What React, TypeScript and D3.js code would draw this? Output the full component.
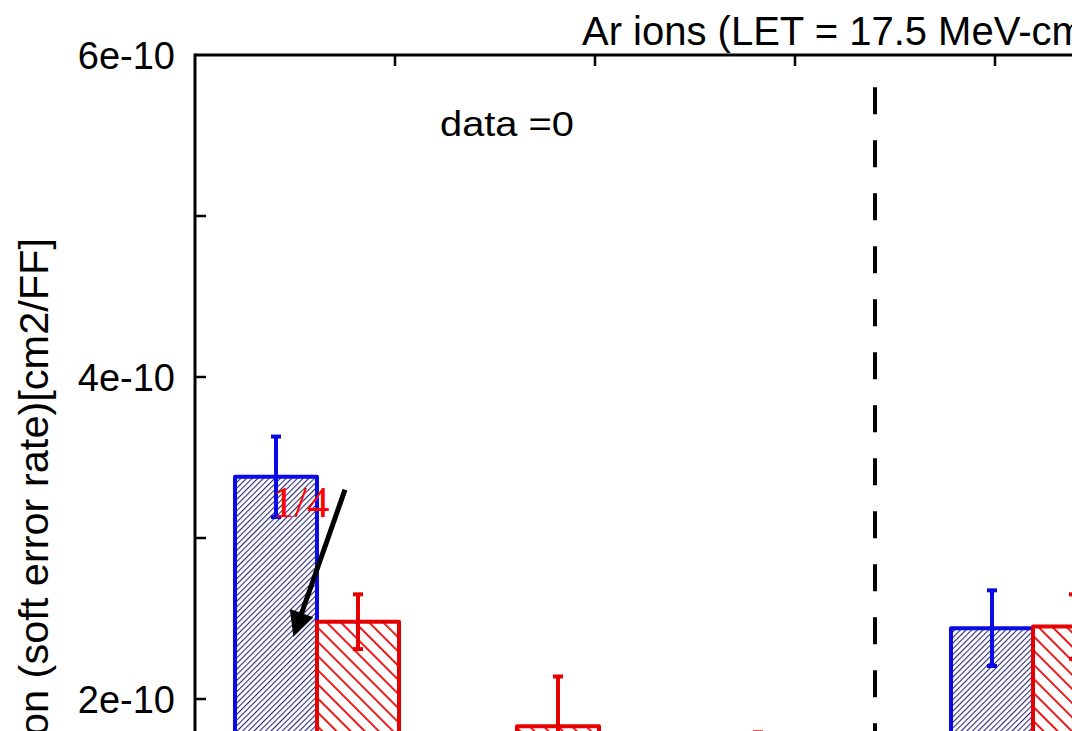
import React, { useEffect, useRef } from 'react';
import * as d3 from 'd3';

// group slots on the x axis (bar pair meets at this position)
const groupPos = [0.61, 1.61, 2.61, 4.19];
const blueVals = [3.38e-10, 0, 0, 2.44e-10];
const blueErr = [0.25e-10, 0, 0, 0.235e-10];
const redVals = [2.48e-10, 1.83e-10, 1.5e-10, 2.45e-10];
const redErr = [0.17e-10, 0.31e-10, 0.293e-10, 0.2e-10];
const yTickLabels = [6e-10, 4e-10, 2e-10];
const yTicks = [6e-10, 5e-10, 4e-10, 3e-10, 2e-10, 1e-10];
const xTicks = [0, 1, 2, 3, 4, 5];
const dividerPos = 3.4;

export default function App() {
  const svgRef = useRef<SVGSVGElement>(null);

  useEffect(() => {
    const width = 1072;
    const height = 731;
    const left = 195;
    const top = 55;
    const barW = 0.41;
    const font = '"Liberation Sans", Arial, sans-serif';

    const svg = d3.select(svgRef.current);
    svg.selectAll('*').remove();
    svg.attr('width', width).attr('height', height);

    const x = d3.scaleLinear().domain([0, 5]).range([left, left + 1000]);
    const y = d3.scaleLinear().domain([0, 6e-10]).range([top + 6 * 161, top]);

    const defs = svg.append('defs');
    const pb = defs.append('pattern')
      .attr('id', 'hatchBlue')
      .attr('patternUnits', 'userSpaceOnUse')
      .attr('width', 4).attr('height', 4)
      .attr('patternTransform', 'rotate(45)');
    pb.append('rect').attr('width', 4).attr('height', 4).attr('fill', '#fff');
    pb.append('line').attr('x1', 0).attr('y1', 0).attr('x2', 0).attr('y2', 4)
      .attr('stroke', '#2b2b7a').attr('stroke-width', 2.2);
    const pr = defs.append('pattern')
      .attr('id', 'hatchRed')
      .attr('patternUnits', 'userSpaceOnUse')
      .attr('width', 10).attr('height', 10)
      .attr('patternTransform', 'rotate(-45)');
    pr.append('rect').attr('width', 10).attr('height', 10).attr('fill', '#fff');
    pr.append('line').attr('x1', 0).attr('y1', 0).attr('x2', 0).attr('y2', 10)
      .attr('stroke', '#e60000').attr('stroke-width', 3.5);
    defs.append('marker')
      .attr('id', 'arrowHead')
      .attr('viewBox', '0 0 10 10')
      .attr('refX', 8).attr('refY', 5)
      .attr('markerWidth', 5.5).attr('markerHeight', 5)
      .attr('markerUnits', 'strokeWidth')
      .attr('orient', 'auto')
      .append('path').attr('d', 'M0,0 L10,5 L0,10 Z').attr('fill', '#000');

    // bars
    const drawBars = (vals: number[], errs: number[], offset: number, fill: string, color: string) => {
      vals.forEach((v, i) => {
        if (v <= 0) return;
        const x0 = x(groupPos[i] + offset);
        const x1 = x(groupPos[i] + offset + barW);
        svg.append('rect')
          .attr('x', x0).attr('y', y(v))
          .attr('width', x1 - x0).attr('height', y(0) - y(v))
          .attr('fill', fill)
          .attr('stroke', color).attr('stroke-width', 4)
          .attr('stroke-linejoin', 'round');
        const cx = (x0 + x1) / 2;
        const g = svg.append('g').attr('stroke', color).attr('stroke-width', 4);
        g.append('line').attr('x1', cx).attr('x2', cx)
          .attr('y1', y(v + errs[i])).attr('y2', y(v - errs[i]));
        [v + errs[i], v - errs[i]].forEach(e => {
          g.append('line').attr('x1', cx - 5).attr('x2', cx + 5)
            .attr('y1', y(e)).attr('y2', y(e));
        });
      });
    };
    drawBars(blueVals, blueErr, -barW, 'url(#hatchBlue)', '#0a0ae6');
    drawBars(redVals, redErr, 0, 'url(#hatchRed)', '#e60000');

    // dashed divider
    svg.append('line')
      .attr('x1', x(dividerPos)).attr('x2', x(dividerPos))
      .attr('y1', y(5.8e-10)).attr('y2', y(0))
      .attr('stroke', '#000').attr('stroke-width', 4)
      .attr('stroke-dasharray', '27,26');

    // axes frame
    svg.append('line')
      .attr('x1', left).attr('x2', width + 10).attr('y1', top).attr('y2', top)
      .attr('stroke', '#000').attr('stroke-width', 3);
    svg.append('line')
      .attr('x1', left).attr('x2', left).attr('y1', top - 1.5).attr('y2', height + 10)
      .attr('stroke', '#000').attr('stroke-width', 3);

    svg.selectAll('line.xtick')
      .data(xTicks.slice(1))
      .enter().append('line')
      .attr('class', 'xtick')
      .attr('x1', d => x(d)).attr('x2', d => x(d))
      .attr('y1', top).attr('y2', top + 11)
      .attr('stroke', '#000').attr('stroke-width', 2.5);

    svg.selectAll('line.ytick')
      .data(yTicks.slice(1))
      .enter().append('line')
      .attr('class', 'ytick')
      .attr('x1', left).attr('x2', left + 11)
      .attr('y1', d => y(d)).attr('y2', d => y(d))
      .attr('stroke', '#000').attr('stroke-width', 2.5);

    svg.selectAll('text.ylabel')
      .data(yTickLabels)
      .enter().append('text')
      .attr('class', 'ylabel')
      .attr('x', left - 20)
      .attr('y', d => y(d))
      .attr('dy', '0.36em')
      .attr('text-anchor', 'end')
      .attr('font-family', font)
      .attr('font-size', 38)
      .text(d => `${d / 1e-10}e-10`);

    // y axis title
    svg.append('text')
      .attr('transform', `translate(48,238) rotate(-90)`)
      .attr('text-anchor', 'end')
      .attr('font-family', font)
      .attr('font-size', 41.5)
      .text('Cross section (soft error rate)[cm2/FF]');

    // title
    svg.append('text')
      .attr('x', 582).attr('y', 45)
      .attr('font-family', font)
      .attr('font-size', 40)
      .text('Ar ions (LET = 17.5 MeV-cm2/mg)');

    // annotations
    svg.append('text')
      .attr('x', x(1.225)).attr('y', y(5.5e-10))
      .attr('font-family', font)
      .attr('font-size', 35)
      .attr('textLength', 134)
      .attr('lengthAdjust', 'spacingAndGlyphs')
      .text('data =0');

    svg.append('text')
      .attr('x', x(0.385)).attr('y', y(3.13e-10))
      .attr('font-family', '"Liberation Serif", "Times New Roman", serif')
      .attr('font-size', 45)
      .attr('fill', '#ff0000')
      .text('1/4');

    svg.append('line')
      .attr('x1', x(0.75)).attr('y1', y(3.3e-10))
      .attr('x2', x(0.5)).attr('y2', y(2.416e-10))
      .attr('stroke', '#000').attr('stroke-width', 5)
      .attr('marker-end', 'url(#arrowHead)');
  }, []);

  return <svg ref={svgRef} style={{ position: 'absolute', left: 0, top: 0, background: '#fff' }}></svg>;
}
